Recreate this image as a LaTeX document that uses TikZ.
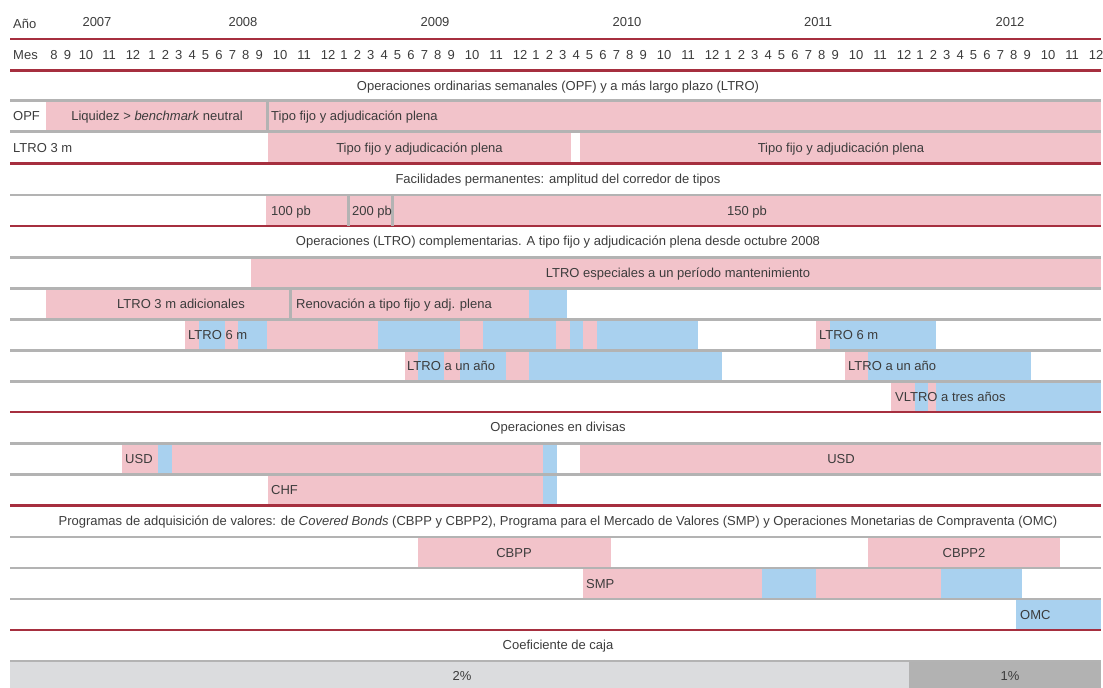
\documentclass[tikz,border=0pt]{standalone}
\usepackage{fontspec}
\setmainfont{Liberation Sans}
\usetikzlibrary{positioning}
\definecolor{barpink}{HTML}{F2C3CA}
\definecolor{barblue}{HTML}{A9D1EF}
\definecolor{rulered}{HTML}{A62F3F}
\definecolor{rulegray}{HTML}{B3B3B3}
\definecolor{ink}{HTML}{3C3C3C}
\definecolor{coeflight}{HTML}{DBDCDE}
\definecolor{coefdark}{HTML}{B2B2B2}

\begin{document}
\begin{tikzpicture}[
  x=1pt, y=-1pt,
  every node/.style={font=\fontsize{13}{15}\selectfont, text=ink, inner sep=0pt, text height=9.3pt, text depth=0pt},
  pk/.style={fill=barpink},
  bl/.style={fill=barblue},
  redrule/.style={draw=rulered, line width=2.5pt},
  grayrule/.style={draw=rulegray, line width=2.6pt},
  lbl/.style={anchor=west}
]
\useasboundingbox (0,0) rectangle (1103,688);

\node[lbl] (ano) at (13,24) {Año};
\foreach \yr/\x in {2007/97,2008/243,2009/435,2010/627,2011/818,2012/1010}
  \node (y\yr) at (\x,22) {\yr};
\node[lbl] (mes) at (13,55) {Mes};
\foreach \m/\x in {8/54,9/67.5,10/86,11/109,12/133}
  \node (m7-\m) at (\x,55) {\m};
\foreach \yr in {0,...,4}
  \foreach \m/\dx in {1/0,2/13.4,3/26.8,4/40.2,5/53.6,6/67,7/80.4,8/93.8,9/107.2,10/128,11/152,12/176}
    \node (m\yr-\m) at ({152+192*\yr+\dx},55) {\m};

\fill[pk] (46,100.5) rectangle (1101,131.5);
\fill[pk] (268,131.5) rectangle (571,163.5);
\fill[pk] (580,131.5) rectangle (1101,163.5);
\fill[pk] (266,195) rectangle (1101,226);
\fill[pk] (251,257.5) rectangle (1101,288.5);
\fill[pk] (46,288.5) rectangle (529,319.5);
\fill[bl] (529,288.5) rectangle (567,319.5);
\foreach \a/\b/\c in {185/199/pk,199/225/bl,225/238/pk,238/267/bl,267/377.5/pk,377.5/460/bl,460/483/pk,483/556/bl,556/570/pk,570/583/bl,583/597/pk,597/698/bl,816/830/pk,830/936/bl}
  \fill[\c] (\a,319.5) rectangle (\b,350.5);
\foreach \a/\b/\c in {405/418/pk,418/444/bl,444/460/pk,460/506/bl,506/529/pk,529/722/bl,845/868/pk,868/1030.5/bl}
  \fill[\c] (\a,350.5) rectangle (\b,381.5);
\foreach \a/\b/\c in {891/914.5/pk,914.5/928/bl,928/936/pk,936/1101/bl}
  \fill[\c] (\a,381.5) rectangle (\b,412);
\foreach \a/\b/\c in {122/158/pk,158/172/bl,172/543/pk,543/557/bl,580/1101/pk}
  \fill[\c] (\a,443.5) rectangle (\b,474.5);
\foreach \a/\b/\c in {268/543/pk,543/557/bl}
  \fill[\c] (\a,474.5) rectangle (\b,505.5);
\foreach \a/\b/\c in {418/611/pk,868/1060/pk}
  \fill[\c] (\a,537) rectangle (\b,568);
\foreach \a/\b/\c in {583/762/pk,762/816/bl,816/941/pk,941/1022/bl}
  \fill[\c] (\a,568) rectangle (\b,599);
\fill[bl] (1016,599) rectangle (1101,630);
\fill[coeflight] (10,661) rectangle (909,688);
\fill[coefdark] (909,661) rectangle (1101,688);

\foreach \y in {100.5,131.5,195,257.5,288.5,319.5,350.5,381.5,443.5,474.5,537,568,599,661}
  \draw[grayrule] (10,\y) -- (1101,\y);
\foreach \y in {39,70.5,163.5,226,412,505.5,630}
  \draw[redrule] (10,\y) -- (1101,\y);
\draw[grayrule] (267.5,100.5) -- (267.5,131.5);
\draw[grayrule] (348.5,195) -- (348.5,226);
\draw[grayrule] (392.5,195) -- (392.5,226);
\draw[grayrule] (290.5,288.5) -- (290.5,319.5);

\node (t1) at (558,86) {Operaciones ordinarias semanales (OPF) y a más largo plazo (LTRO)};
\node[lbl] (opf) at (13,116) {OPF};
\node (liq) at (157,116) {Liquidez > \textit{benchmark}\ neutral};
\node[lbl] (opftipo) at (271,116) {Tipo fijo y adjudicación plena};
\node[lbl] (ltro3) at (13,147.5) {LTRO 3 m};
\node (ltrotipoa) at (419.5,147.5) {Tipo fijo y adjudicación plena};
\node (ltrotipob) at (841,147.5) {Tipo fijo y adjudicación plena};

\node (t2) at (558,179) {Facilidades permanentes: amplitud del corredor de tipos};
\node[lbl] (pb100) at (271,210.5) {100 pb};
\node[lbl] (pb200) at (352,210.5) {200 pb};
\node (pb150) at (747,210.5) {150 pb};

\node (t3) at (558,241) {Operaciones (LTRO) complementarias. A tipo fijo y adjudicación plena desde octubre 2008};
\node (esp) at (678,273) {LTRO especiales a un período mantenimiento};
\node (adic) at (181,304) {LTRO 3 m adicionales};
\node[lbl] (renov) at (296,304) {Renovación a tipo fijo y adj. plena};
\node[lbl] (seisa) at (188,335) {LTRO 6 m};
\node[lbl] (seisb) at (819,335) {LTRO 6 m};
\node[lbl] (anoa) at (407,366) {LTRO a un año};
\node[lbl] (anob) at (848,366) {LTRO a un año};
\node[lbl] (vltro) at (895,397) {VLTRO a tres años};

\node (t4) at (558,427) {Operaciones en divisas};
\node[lbl] (usda) at (125,459) {USD};
\node (usdb) at (841,459) {USD};
\node[lbl] (chf) at (271,490) {CHF};

\node (t5) at (558,521) {Programas de adquisición de valores: de \textit{Covered Bonds}\ (CBPP y CBPP2), Programa para el Mercado de Valores (SMP) y Operaciones Monetarias de Compraventa (OMC)};
\node (cbpp) at (514,552.5) {CBPP};
\node (cbpp2) at (964,552.5) {CBPP2};
\node[lbl] (smp) at (586,583.5) {SMP};
\node[lbl] (omc) at (1020,614.5) {OMC};

\node (t6) at (558,645) {Coeficiente de caja};
\node (dos) at (462,676) {2\%};
\node (uno) at (1010,676) {1\%};
\end{tikzpicture}
\end{document}
